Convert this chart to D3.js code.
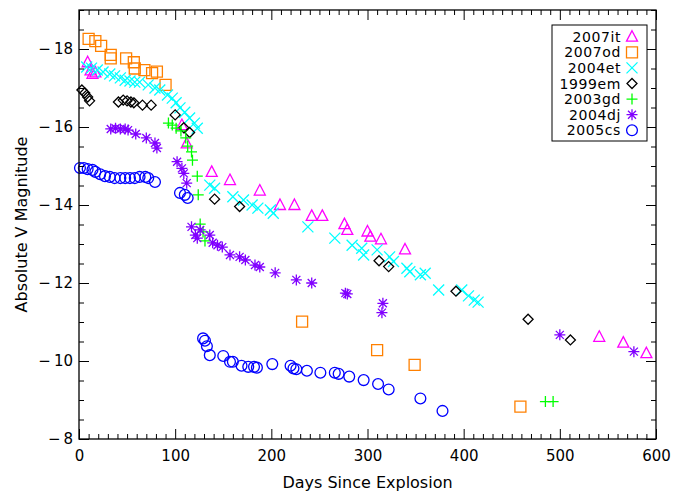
<!DOCTYPE html>
<html lang="en">
<head>
  <meta charset="UTF-8">
  <title>Type II-P light curves</title>
  <script src="https://d3js.org/d3.v7.min.js"></script>
  <style>
    body { margin: 0; background: #fff; }
    text { font-family: "DejaVu Sans", sans-serif; fill: #000; }
  </style>
</head>
<body>
  <script>
    // [days since explosion, absolute V magnitude]
    var sn2007it = [[9,-17.66],[12,-17.45],[14,-17.36],[17,-17.40],[107,-16.05],[112,-15.58],
      [138,-14.85],[157,-14.64],[188,-14.37],[209,-14.0],[224,-14.0],[242,-13.72],[253,-13.72],
      [276,-13.51],[279,-13.36],[300,-13.32],[303,-13.19],[314,-13.12],[339,-12.86],
      [541,-10.62],[566,-10.47],[590,-10.2]];
    var sn2007od = [[10,-18.26],[17,-18.2],[23,-18.08],[33,-17.85],[33,-17.76],[49,-17.76],
      [57,-17.66],[58,-17.5],[68,-17.46],[76,-17.38],[81,-17.42],[90,-17.08],
      [232,-11.01],[310,-10.28],[349,-9.9],[459,-8.83]];
    var sn2004et = [[8,-17.54],[13,-17.51],[19,-17.46],[25,-17.41],[32,-17.36],[37,-17.31],
      [43,-17.26],[48,-17.2],[53,-17.18],[58,-17.15],[63,-17.15],[72,-17.08],[79,-17.0],
      [84,-16.95],[92,-16.82],[97,-16.74],[101,-16.62],[105,-16.49],[110,-16.38],[115,-16.23],
      [120,-16.1],[123,-15.97],[136,-14.51],[141,-14.43],[160,-14.21],[171,-14.13],[180,-14.0],
      [186,-13.92],[199,-13.87],[202,-13.79],[238,-13.44],[266,-13.15],[284,-12.97],[294,-12.89],
      [296,-12.72],[310,-12.85],[323,-12.67],[327,-12.55],[341,-12.38],[344,-12.29],[355,-12.21],
      [360,-12.25],[374,-11.82],[398,-11.82],[405,-11.67],[411,-11.56],[415,-11.51]];
    var sn1999em = [[3,-16.95],[6,-16.87],[9,-16.77],[11,-16.67],[41,-16.64],[46,-16.69],
      [50,-16.67],[54,-16.64],[57,-16.62],[66,-16.56],[75,-16.56],[100,-16.31],[109,-15.98],
      [115,-15.86],[141,-14.15],[167,-13.96],[312,-12.57],[322,-12.42],[392,-11.79],
      [467,-11.07],[511,-10.54]];
    var sn2003gd = [[93,-16.1],[97,-16.05],[101,-15.97],[106,-15.9],[111,-15.72],[113,-15.51],
      [117,-15.36],[118,-15.15],[123,-14.74],[124,-14.26],[126,-13.51],[129,-13.31],[131,-13.08],
      [485,-8.96],[493,-8.96]];
    var sn2004dj = [[33,-15.95],[38,-15.97],[43,-15.95],[48,-15.95],[51,-15.92],[59,-15.82],
      [70,-15.72],[79,-15.59],[81,-15.46],[102,-15.11],[107,-14.94],[109,-14.81],[112,-14.56],
      [117,-13.44],[121,-13.23],[123,-13.15],[126,-13.36],[136,-13.23],[139,-13.03],[144,-12.97],
      [149,-12.92],[157,-12.72],[167,-12.67],[173,-12.59],[183,-12.46],[188,-12.41],[204,-12.26],
      [226,-12.08],[242,-12.0],[277,-11.74],[279,-11.72],[316,-11.48],[315,-11.24],
      [500,-10.67],[577,-10.24]];
    var sn2005cs = [[1,-14.95],[5,-14.95],[9,-14.92],[14,-14.9],[17,-14.85],[22,-14.79],
      [27,-14.74],[32,-14.72],[37,-14.69],[43,-14.69],[48,-14.69],[53,-14.69],[58,-14.69],
      [63,-14.72],[69,-14.72],[72,-14.69],[79,-14.59],[105,-14.31],[110,-14.26],[113,-14.18],
      [129,-10.58],[131,-10.52],[133,-10.38],[136,-10.15],[150,-10.13],[157,-9.98],[160,-9.98],
      [169,-9.88],[176,-9.85],[182,-9.85],[185,-9.83],[201,-9.92],[220,-9.88],[223,-9.81],
      [226,-9.79],[237,-9.75],[251,-9.7],[266,-9.7],[270,-9.67],[281,-9.6],[296,-9.51],
      [311,-9.41],[322,-9.27],[355,-9.04],[378,-8.72]];

    var xTicks = [0, 100, 200, 300, 400, 500, 600];
    var yTicks = [-18, -16, -14, -12, -10, -8];

    var series = [
      { name: "2007it", data: sn2007it, symbol: "triangle", color: "#ff00ff" },
      { name: "2007od", data: sn2007od, symbol: "square", color: "#ff8000" },
      { name: "2004et", data: sn2004et, symbol: "cross", color: "#00ffff" },
      { name: "1999em", data: sn1999em, symbol: "diamond", color: "#000000" },
      { name: "2003gd", data: sn2003gd, symbol: "plus", color: "#00ff00" },
      { name: "2004dj", data: sn2004dj, symbol: "asterisk", color: "#8000ff" },
      { name: "2005cs", data: sn2005cs, symbol: "circle", color: "#0000ff" }
    ];

    var svgW = 689, svgH = 494;
    var plotL = 79, plotR = 656, plotT = 10, plotB = 439;

    var svg = d3.select("body").append("svg")
      .attr("width", svgW)
      .attr("height", svgH);

    var x = d3.scaleLinear().domain([0, 600]).range([plotL, plotR]);
    var y = d3.scaleLinear().domain([-19, -8]).range([plotT, plotB]);

    function symbolPath(type) {
      switch (type) {
        case "triangle": return "M0,-6L5.5,4.5L-5.5,4.5Z";
        case "square": return "M-5.5,-5.5H5.5V5.5H-5.5Z";
        case "cross": return "M-5.5,-5.5L5.5,5.5M-5.5,5.5L5.5,-5.5";
        case "diamond": return "M0,-5L5,0L0,5L-5,0Z";
        case "plus": return "M-5.5,0H5.5M0,-5.5V5.5";
        case "asterisk": return "M-5.5,0H5.5M0,-5.5V5.5M-4,-4L4,4M-4,4L4,-4";
        case "circle": return "M5.4,0A5.4,5.4 0 1,1 -5.4,0A5.4,5.4 0 1,1 5.4,0Z";
      }
    }

    // points
    series.forEach(function(s) {
      svg.append("g")
        .selectAll("path")
        .data(s.data)
        .enter()
        .append("path")
        .attr("d", symbolPath(s.symbol))
        .attr("transform", d => "translate(" + x(d[0]) + "," + y(d[1]) + ")")
        .style("fill", "none")
        .style("stroke", s.color)
        .style("stroke-width", 1.3);
    });

    // axes, ticks pointing inward on all four sides
    function minusFmt(d) {
      return d < 0 ? "\u2212\u2009" + Math.abs(d) : String(d);
    }

    var xMinor = d3.range(0, 601, 10).filter(v => v % 100 !== 0);
    var yMinor = d3.range(-19, -7.9, 0.5).filter(v => v % 2 !== 0);

    svg.append("g")
      .attr("transform", "translate(0," + plotB + ")")
      .call(d3.axisBottom(x).tickValues(xTicks).tickSizeInner(-10).tickSizeOuter(0).tickPadding(11))
      .call(g => g.selectAll("text").style("font-size", "15px").style("font-family", "DejaVu Sans"));
    svg.append("g")
      .attr("transform", "translate(0," + plotB + ")")
      .call(d3.axisBottom(x).tickValues(xMinor).tickSizeInner(-5).tickSizeOuter(0).tickFormat(""));
    svg.append("g")
      .attr("transform", "translate(0," + plotT + ")")
      .call(d3.axisTop(x).tickValues(xTicks).tickSizeInner(-10).tickSizeOuter(0).tickFormat(""));
    svg.append("g")
      .attr("transform", "translate(0," + plotT + ")")
      .call(d3.axisTop(x).tickValues(xMinor).tickSizeInner(-5).tickSizeOuter(0).tickFormat(""));

    svg.append("g")
      .attr("transform", "translate(" + plotL + ",0)")
      .call(d3.axisLeft(y).tickValues(yTicks).tickSizeInner(-10).tickSizeOuter(0).tickPadding(6).tickFormat(minusFmt))
      .call(g => g.selectAll("text").style("font-size", "15px").style("font-family", "DejaVu Sans"));
    svg.append("g")
      .attr("transform", "translate(" + plotL + ",0)")
      .call(d3.axisLeft(y).tickValues(yMinor).tickSizeInner(-5).tickSizeOuter(0).tickFormat(""));
    svg.append("g")
      .attr("transform", "translate(" + plotR + ",0)")
      .call(d3.axisRight(y).tickValues(yTicks).tickSizeInner(-10).tickSizeOuter(0).tickFormat(""));
    svg.append("g")
      .attr("transform", "translate(" + plotR + ",0)")
      .call(d3.axisRight(y).tickValues(yMinor).tickSizeInner(-5).tickSizeOuter(0).tickFormat(""));

    svg.selectAll(".domain").remove();
    svg.selectAll(".tick line").style("stroke", "#000");

    svg.append("rect")
      .attr("x", plotL)
      .attr("y", plotT)
      .attr("width", plotR - plotL)
      .attr("height", plotB - plotT)
      .style("fill", "none")
      .style("stroke", "#000")
      .style("stroke-width", 1.3);

    svg.append("text")
      .attr("x", (plotL + plotR) / 2)
      .attr("y", 488)
      .attr("text-anchor", "middle")
      .style("font-size", "16px")
      .text("Days Since Explosion");

    svg.append("text")
      .attr("transform", "translate(27," + (plotT + plotB) / 2 + ") rotate(-90)")
      .attr("text-anchor", "middle")
      .style("font-size", "16px")
      .text("Absolute V Magnitude");

    // legend
    var legend = svg.append("g");
    legend.append("rect")
      .attr("x", 552)
      .attr("y", 25)
      .attr("width", 95)
      .attr("height", 116)
      .style("fill", "#fff")
      .style("stroke", "#000")
      .style("stroke-width", 1);

    var rows = legend.selectAll(".row")
      .data(series)
      .enter()
      .append("g")
      .attr("class", "row")
      .attr("transform", (d, i) => "translate(0," + (36.7 + i * 15.6) + ")");

    rows.append("text")
      .attr("x", 621)
      .attr("y", 5)
      .attr("text-anchor", "end")
      .style("font-size", "14px")
      .style("letter-spacing", "0.6px")
      .text(d => d.name);

    rows.append("path")
      .attr("d", d => symbolPath(d.symbol))
      .attr("transform", "translate(632,0)")
      .style("fill", "none")
      .style("stroke", d => d.color)
      .style("stroke-width", 1.3);
  </script>
</body>
</html>
